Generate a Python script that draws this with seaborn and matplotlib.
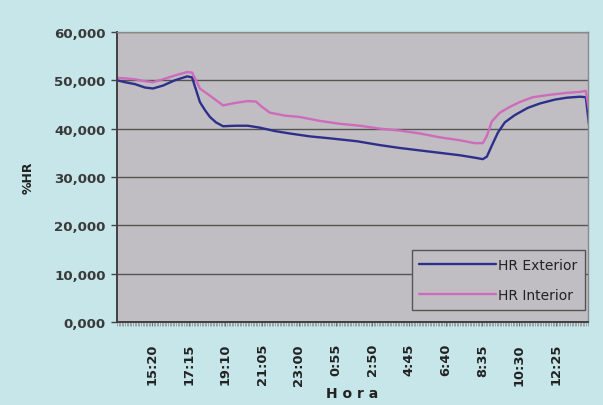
import numpy as np
import pandas as pd
import matplotlib.pyplot as plt
import seaborn as sns
from matplotlib.ticker import FuncFormatter, MultipleLocator

# ── data (hours elapsed since 13:30, %HR) ────────────────────────────────────
START_CLOCK = "13:30"

hours_ext = [0.0, 0.42, 0.94, 1.46, 1.88, 2.4, 3.03, 3.66, 3.92, 4.13, 4.33,
             4.6, 4.86, 5.17, 5.54, 6.16, 6.84, 7.47, 8.25, 9.03, 10.08, 11.12,
             12.53, 13.73, 14.78, 15.82, 16.87, 17.91, 18.69, 19.11, 19.32,
             19.58, 19.9, 20.26, 20.78, 21.46, 22.09, 22.87, 23.5, 24.18,
             24.49, 24.65]
hr_exterior = [50.0, 49.6, 49.2, 48.5, 48.3, 48.9, 50.0, 50.8, 50.6, 48.0,
               45.5, 43.8, 42.4, 41.3, 40.5, 40.6, 40.6, 40.2, 39.5, 39.0,
               38.4, 38.0, 37.4, 36.6, 36.0, 35.5, 35.0, 34.5, 34.0, 33.7,
               34.2, 36.5, 39.2, 41.3, 42.8, 44.3, 45.2, 46.0, 46.4, 46.6,
               46.5, 41.0]

hours_int = [0.0, 0.42, 0.94, 1.46, 1.88, 2.4, 3.03, 3.66, 3.92, 4.13, 4.33,
             4.86, 5.54, 6.16, 6.84, 7.26, 7.57, 7.99, 8.77, 9.56, 10.6, 11.65,
             12.69, 13.73, 14.78, 15.82, 16.87, 17.91, 18.69, 19.11, 19.32,
             19.58, 20.0, 20.52, 21.04, 21.72, 22.61, 23.5, 24.18, 24.49, 24.65]
hr_interior = [50.5, 50.4, 50.2, 49.8, 49.6, 50.2, 51.0, 51.7, 51.6, 50.0,
               48.3, 46.8, 44.8, 45.3, 45.7, 45.6, 44.5, 43.3, 42.7, 42.4,
               41.6, 41.0, 40.6, 40.0, 39.6, 39.0, 38.2, 37.6, 37.0, 37.0,
               38.5, 41.5, 43.3, 44.5, 45.5, 46.5, 47.0, 47.4, 47.6, 47.8, 44.0]

tick_labels = ["15:20", "17:15", "19:10", "21:05", "23:00", "0:55",
               "2:50", "4:45", "6:40", "8:35", "10:30", "12:25"]

series_names = ["HR Exterior", "HR Interior"]
series_colors = ["#2e2f8c", "#cf6bbd"]

BG = "#c6e6ea"
PLOT_BG = "#c0bec2"


def clock_to_hours(s):
    h, m = map(int, s.split(":"))
    h0, m0 = map(int, START_CLOCK.split(":"))
    d = (h * 60 + m) - (h0 * 60 + m0)
    if d < 0:
        d += 24 * 60
    return d / 60.0


df = pd.concat([
    pd.DataFrame({"hora": hours_ext, "hr": hr_exterior, "serie": series_names[0]}),
    pd.DataFrame({"hora": hours_int, "hr": hr_interior, "serie": series_names[1]}),
])

sns.set_theme(style="white")
plt.rcParams["font.family"] = ["DejaVu Sans"]

fig = plt.figure(figsize=(6.03, 4.06), dpi=100, facecolor=BG)
ax = fig.add_axes([0.194, 0.204, 0.781, 0.715])
ax.set_facecolor(PLOT_BG)

sns.lineplot(data=df, x="hora", y="hr", hue="serie", hue_order=series_names,
             palette=series_colors, linewidth=1.7, ax=ax, sort=False)

ax.set_xlim(0, 24.6)
ax.set_ylim(0, 60)

# y axis
ax.yaxis.set_major_locator(MultipleLocator(10))
ax.yaxis.set_major_formatter(FuncFormatter(lambda v, p: f"{v:.3f}".replace(".", ",")))
ax.grid(axis="y", color="#555555", linewidth=1.0)
ax.set_axisbelow(True)
ax.tick_params(axis="y", which="major", length=4, width=1, color="#444444",
               labelsize=9.6, labelcolor="#3a3a3a", pad=4, left=True)
for lab in ax.get_yticklabels():
    lab.set_fontweight("bold")

# x axis
ax.set_xticks([clock_to_hours(t) for t in tick_labels])
ax.set_xticklabels(tick_labels, rotation=90, fontsize=9.4, fontweight="bold",
                   color="#222222", va="top")
ax.xaxis.set_minor_locator(MultipleLocator(5 / 60))
ax.tick_params(axis="x", which="major", length=3, width=0.8, color="#777777",
               pad=12, bottom=True)
ax.tick_params(axis="x", which="minor", length=3, width=0.5, color="#888888",
               bottom=True)

ax.set_xlabel("H o r a", fontsize=10, fontweight="bold", color="#222222", labelpad=1)
ax.set_ylabel("%HR", fontsize=9, fontweight="bold", color="#222222", labelpad=14)

for side in ["left", "bottom"]:
    ax.spines[side].set_color("#404040")
    ax.spines[side].set_linewidth(1.4)
for side in ["top", "right"]:
    ax.spines[side].set_color("#8a8a8a")
    ax.spines[side].set_linewidth(1.0)

leg = ax.legend(loc="lower right", bbox_to_anchor=(0.993, 0.043), fontsize=10,
                frameon=True, fancybox=False, handlelength=5.5,
                handletextpad=0.15, borderpad=0.55, labelspacing=1.15,
                borderaxespad=0)
leg.get_frame().set_facecolor(PLOT_BG)
leg.get_frame().set_edgecolor("#555555")
leg.get_frame().set_alpha(1)
leg.get_frame().set_linewidth(1.0)
for t in leg.get_texts():
    t.set_color("#222222")
for h in leg.get_lines():
    h.set_linewidth(1.7)

fig.savefig("out.png", dpi=100, facecolor=BG)
